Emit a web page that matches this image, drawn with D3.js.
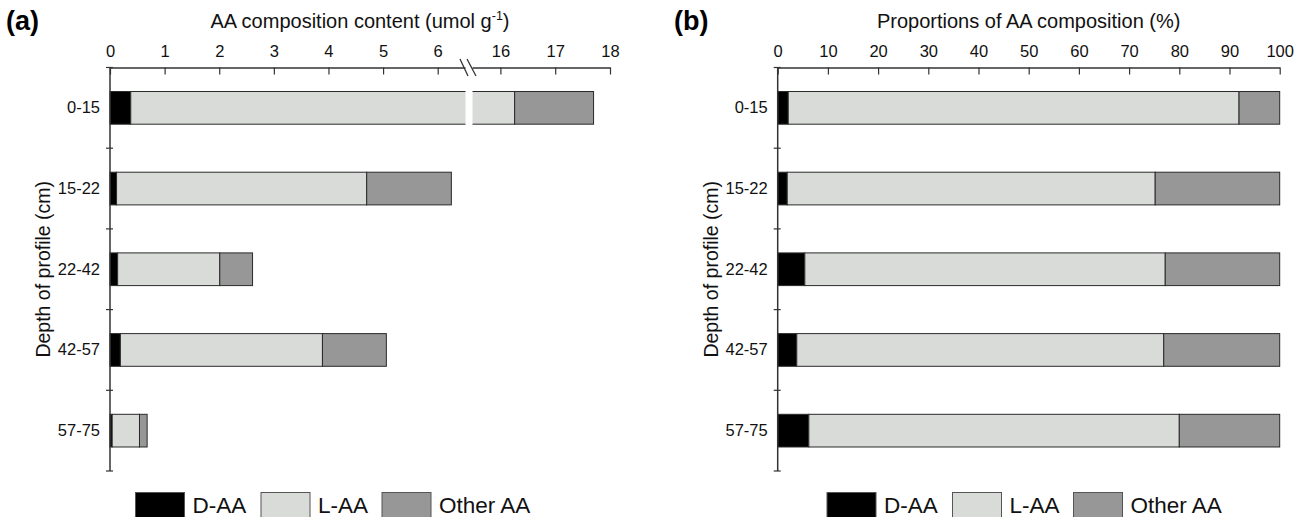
<!DOCTYPE html>
<html>
<head>
<meta charset="utf-8">
<script src="https://cdn.jsdelivr.net/npm/d3@7"></script>
<style>
  html, body { margin: 0; padding: 0; background: #fff; }
  svg { display: block; font-family: "Liberation Sans", Arial, Helvetica, sans-serif; }
</style>
</head>
<body>
<svg id="chart" width="1306" height="517"></svg>
<script>
// ---------- data ----------
const categories = ["0-15", "15-22", "22-42", "42-57", "57-75"];
const seriesNames = ["D-AA", "L-AA", "Other AA"];

// (a) content, umol g-1
const contentD = [0.38, 0.12, 0.14, 0.19, 0.04];
const contentL = [15.88, 4.58, 1.87, 3.70, 0.50];
const contentOther = [1.44, 1.55, 0.60, 1.17, 0.14];

// (b) proportions, %
const propD = [2.1, 1.9, 5.4, 3.8, 6.2];
const propL = [89.8, 73.3, 71.8, 73.1, 73.8];
const propOther = [8.1, 24.8, 22.8, 23.1, 20.0];

const contentTicks = [0, 1, 2, 3, 4, 5, 6, 16, 17, 18];
const propTicks = [0, 10, 20, 30, 40, 50, 60, 70, 80, 90, 100];

// ---------- styles ----------
const colors = { "D-AA": "#000000", "L-AA": "#d9dbd9", "Other AA": "#979797" };
const axisColor = "#333";

const svg = d3.select("#chart");

function table(d, l, o) {
  return categories.map((c, i) => ({ cat: c, "D-AA": d[i], "L-AA": l[i], "Other AA": o[i] }));
}

const yTop = 67.5, yBottom = 471;
const y = d3.scaleBand().domain(categories).range([yTop, yBottom]).padding(0);
const barH = y.bandwidth() * 0.405;

function drawPanel(opts) {
  const { x, data, x0, x1, ticks, letter, letterX, title, legendX } = opts;
  const g = svg.append("g");
  const stack = d3.stack().keys(seriesNames)(data);

  // bars
  stack.forEach(layer => {
    g.append("g").selectAll("rect").data(layer).join("rect")
      .attr("x", d => x(d[0]))
      .attr("y", d => y(d.data.cat) + (y.bandwidth() - barH) / 2)
      .attr("width", d => Math.max(0, x(d[1]) - x(d[0])))
      .attr("height", barH)
      .attr("fill", colors[layer.key])
      .attr("stroke", "#2a2a2a")
      .attr("stroke-width", 1);
  });

  // top axis
  const ax = g.append("g")
    .attr("transform", `translate(0,${yTop})`)
    .call(d3.axisTop(x).tickValues(ticks).tickSizeInner(-7).tickSizeOuter(0).tickPadding(11).tickFormat(d3.format("d")));
  ax.select(".domain").attr("stroke", axisColor).attr("stroke-width", 1.5);
  ax.selectAll(".tick line").attr("stroke", axisColor).attr("stroke-width", 1.2);
  ax.selectAll(".tick text").attr("font-size", 16.5).attr("fill", "#111")
    .attr("font-family", "Liberation Sans, Arial, sans-serif");

  // left axis: labels at band centres
  const ay = g.append("g")
    .attr("transform", `translate(${x0},0)`)
    .call(d3.axisLeft(y).tickSize(0).tickPadding(10));
  ay.select(".domain").remove();
  ay.selectAll(".tick text").attr("font-size", 16.5).attr("fill", "#111")
    .attr("font-family", "Liberation Sans, Arial, sans-serif");

  g.append("line").attr("x1", x0).attr("x2", x0).attr("y1", yTop).attr("y2", yBottom)
    .attr("stroke", axisColor).attr("stroke-width", 1.5);
  // boundary ticks
  const bounds = categories.map(c => y(c)).concat([yBottom]);
  g.append("g").selectAll("line").data(bounds).join("line")
    .attr("x1", x0 - 4).attr("x2", x0 + 3)
    .attr("y1", d => d).attr("y2", d => d)
    .attr("stroke", axisColor).attr("stroke-width", 1.2);

  // titles
  const t = g.append("text")
    .attr("x", (x0 + x1) / 2).attr("y", 28)
    .attr("text-anchor", "middle").attr("font-size", 20).attr("fill", "#111");
  title(t);

  g.append("text")
    .attr("transform", `translate(${x0 - 67},${(yTop + yBottom) / 2}) rotate(-90)`)
    .attr("text-anchor", "middle").attr("dy", "0.35em")
    .attr("font-size", 19.5).attr("fill", "#111")
    .text("Depth of profile (cm)");

  g.append("text")
    .attr("x", letterX).attr("y", 30)
    .attr("font-size", 27).attr("font-weight", "bold").attr("fill", "#000")
    .text(letter);

  // legend
  const lg = g.append("g");
  seriesNames.forEach((s, i) => {
    lg.append("rect").attr("x", legendX[i]).attr("y", 492.5)
      .attr("width", 49).attr("height", 26)
      .attr("fill", colors[s]).attr("stroke", "#555").attr("stroke-width", 1);
    lg.append("text").attr("x", legendX[i] + 57).attr("y", 513)
      .attr("font-size", 22.5).attr("fill", "#111").text(s);
  });
  return g;
}

// ---------- panel (a) with broken axis ----------
const xa = d3.scaleLinear().domain([0, 6.5, 15.5, 18]).range([110, 465, 473, 610]);
const ga = drawPanel({
  x: xa, data: table(contentD, contentL, contentOther), x0: 110, x1: 610,
  ticks: contentTicks, letter: "(a)", letterX: 6,
  legendX: [135.5, 261, 382],
  title: t => {
    t.append("tspan").text("AA composition content (umol g");
    t.append("tspan").attr("font-size", 12.5).attr("dy", -8).text("-1");
    t.append("tspan").attr("dy", 8).text(")");
  }
});
// break gap
ga.append("rect").attr("x", xa(6.5) + 0.5).attr("y", 60).attr("width", xa(15.5) - xa(6.5) - 1).attr("height", 70)
  .attr("fill", "#fff");
[[460, 468], [467, 476]].forEach(([a, b]) => {
  ga.append("line").attr("x1", a).attr("y1", 59).attr("x2", b).attr("y2", 76)
    .attr("stroke", axisColor).attr("stroke-width", 1.3);
});

// ---------- panel (b) ----------
const xb = d3.scaleLinear().domain([0, 100]).range([777.7, 1279.7]);
drawPanel({
  x: xb, data: table(propD, propL, propOther), x0: 777.7, x1: 1279.7,
  ticks: propTicks, letter: "(b)", letterX: 674,
  legendX: [827, 952.5, 1073.5],
  title: t => { t.text("Proportions of AA composition (%)"); }
});
</script>
</body>
</html>
